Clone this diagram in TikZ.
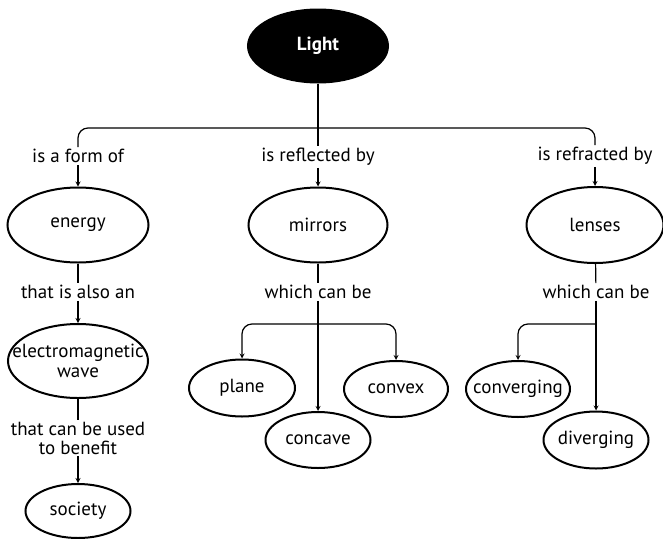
\documentclass[tikz,border=0pt]{standalone}
\usepackage{fontspec}
\setmainfont{PT Sans}
\usetikzlibrary{shapes.geometric}

\begin{document}
\begin{tikzpicture}[x=1pt,y=-1pt,>=stealth,line width=1.2pt,
    concept/.style={ellipse,draw,line width=2pt,inner ysep=0pt,inner xsep=-25pt,font=\fontsize{19}{20}\selectfont},
    link/.style={inner sep=1.5pt,align=center,font=\fontsize{19}{19}\selectfont}]

    \useasboundingbox (0,0) rectangle (663,538);

    % concepts
    \node[concept, fill=black, text=white, minimum width=140pt, minimum height=73pt, font=\fontsize{19}{20}\selectfont\bfseries] (light) at (318,46) {Light};
    \node[concept, minimum width=141pt, minimum height=75pt] (energy) at (78,225) {energy};
    \node[concept, minimum width=139pt, minimum height=75pt] (mirrors) at (318,225) {mirrors};
    \node[concept, minimum width=137pt, minimum height=76pt] (lenses) at (595,225) {lenses};
    \node[concept, minimum width=140pt, minimum height=74pt, align=center] (em) at (78,361) {electromagnetic\\wave};
    \node[concept, minimum width=105pt, minimum height=54pt] (society) at (78,511) {society};
    \node[concept, minimum width=106pt, minimum height=57pt] (plane) at (242,388) {plane};
    \node[concept, minimum width=105pt, minimum height=56pt] (concave) at (318,440) {concave};
    \node[concept, minimum width=104pt, minimum height=56pt] (convex) at (396,389) {convex};
    \node[concept, minimum width=104pt, minimum height=56pt] (converging) at (518,389) {converging};
    \node[concept, minimum width=105pt, minimum height=57pt] (diverging) at (596,440) {diverging};

    % linking phrases
    \node[link] (formof) at (78,156) {is a form of};
    \node[link] (reflby) at (318,157) {is reflected by};
    \node[link] (refrby) at (595,156) {is refracted by};
    \node[link] (alsoan) at (78,292) {that is also an};
    \node[link] (mcan) at (318,292) {which can be};
    \node[link] (lcan) at (596,292) {which can be};
    \node[link] (benefit) at (78,438) {that can be used\\to benefit};

    \coordinate (top) at (318,128);
    \coordinate (mj) at (318,324);
    \coordinate (lj) at (596,324);

    \draw[-] (light) to (reflby);
    \draw[-, rounded corners=10pt] (formof) |- (top) -| (refrby);
    \draw[->] (formof) to (energy);
    \draw[->] (reflby) to (mirrors);
    \draw[->] (refrby) to (lenses);

    \draw[-] (energy) to (alsoan);
    \draw[->] (alsoan) to (em);
    \draw[-] (em) to (benefit);
    \draw[->] (benefit) to (society);

    \draw[-] (mirrors) to (mcan);
    \draw[->] (mcan) to (concave);
    \draw[->, rounded corners=10pt] (mj) -| (plane);
    \draw[->, rounded corners=10pt] (mj) -| (convex);

    \draw[-] (lenses) to (lcan);
    \draw[->] (lcan) to (diverging);
    \draw[->, rounded corners=10pt] (lj) -| (converging);
\end{tikzpicture}
\end{document}
